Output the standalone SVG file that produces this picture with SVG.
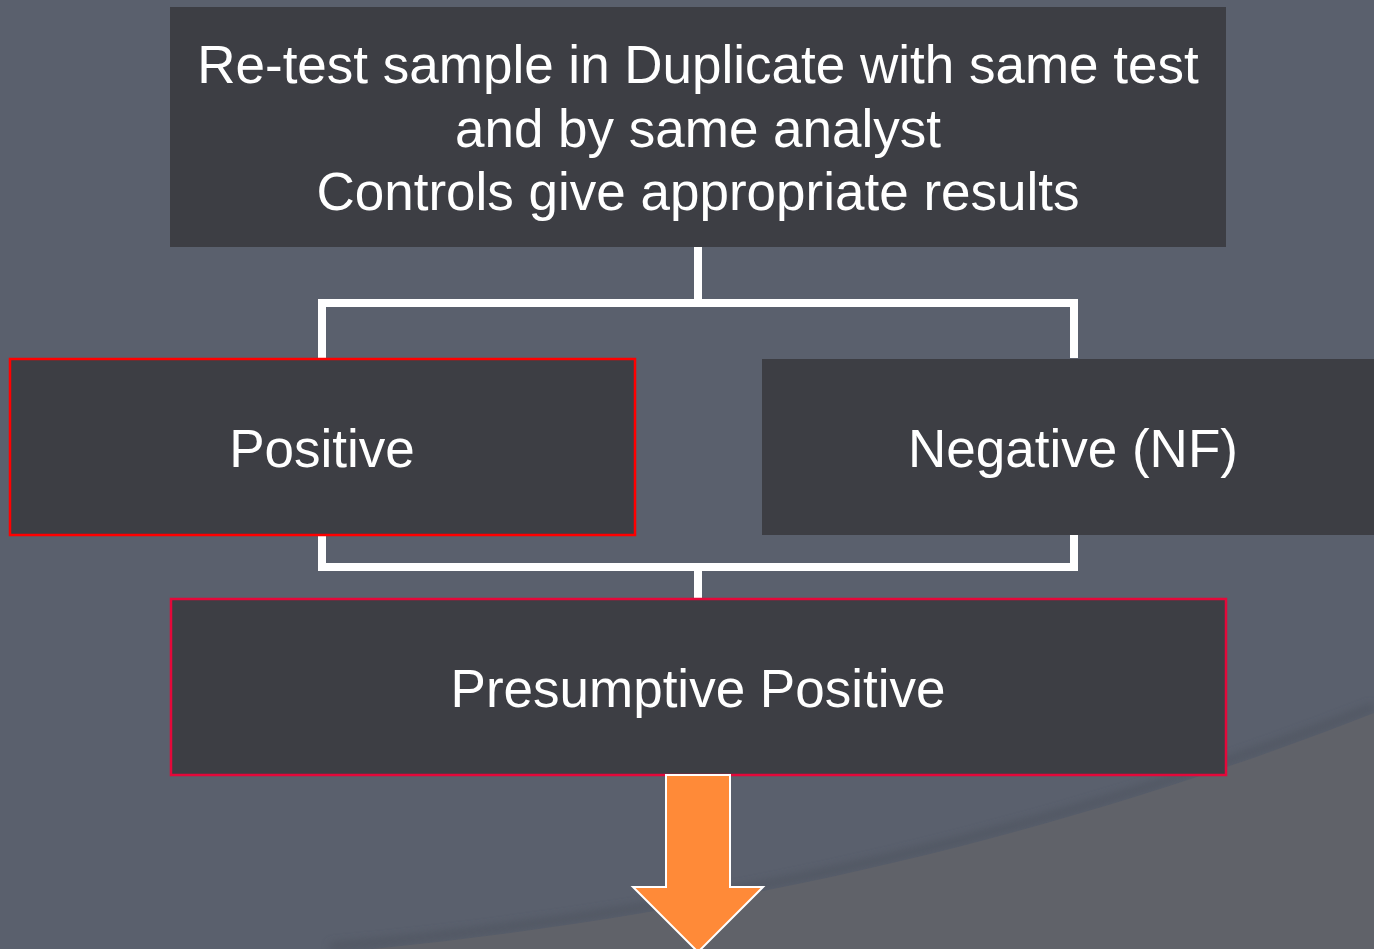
<svg xmlns="http://www.w3.org/2000/svg" width="1374" height="949" viewBox="0 0 1374 949">
<defs>
<style>
.box{fill:#3d3e44;}
.red{stroke:#ff0000;stroke-width:2.5;}
.crim{stroke:#e4083a;stroke-width:2.5;}
.lbl{font-family:"Liberation Sans",Arial,sans-serif;font-size:53px;fill:#ffffff;text-anchor:middle;}
.conn{fill:none;stroke:#ffffff;stroke-width:8;stroke-linejoin:miter;}
</style>
<filter id="blur" x="-10%" y="-50%" width="120%" height="200%"><feGaussianBlur stdDeviation="4"/></filter>
</defs>
<rect id="background" x="0" y="0" width="1374" height="949" fill="#5a606d"/>
<path d="M1374,707 C1150,795 800,905 330,947" fill="none" stroke="#4a4f5a" stroke-width="7" opacity="0.6" filter="url(#blur)"/>
<path d="M1374,713 C1150,801 800,911 330,953 L1374,953 Z" fill="#606269"/>
<g id="connectors">
<path class="conn" d="M698,247 V303 M322,358 V303 H1074 V358"/>
<path class="conn" d="M322,535 V567 H1074 V535 M698,567 V598"/>
</g>
<g id="node-retest">
<rect class="box" x="170" y="7" width="1056" height="240"/>
<text class="lbl" x="698" y="83">Re-test sample in Duplicate with same test</text>
<text class="lbl" x="698" y="147">and by same analyst</text>
<text class="lbl" x="698" y="210">Controls give appropriate results</text>
</g>
<g id="node-positive">
<rect class="box red" x="10" y="359" width="625" height="176"/>
<text class="lbl" x="322" y="467">Positive</text>
</g>
<g id="node-negative">
<rect class="box" x="762" y="359" width="620" height="176"/>
<text class="lbl" x="1073" y="467">Negative (NF)</text>
</g>
<g id="node-presumptive">
<rect class="box crim" x="171" y="599" width="1055" height="176"/>
<text class="lbl" x="698" y="707">Presumptive Positive</text>
</g>
<g id="arrow">
<path d="M666,775 H730 V887 H763 L698,952 L633,887 H666 Z" fill="#ff8a38" stroke="#ffffff" stroke-width="2"/>
</g>
</svg>
